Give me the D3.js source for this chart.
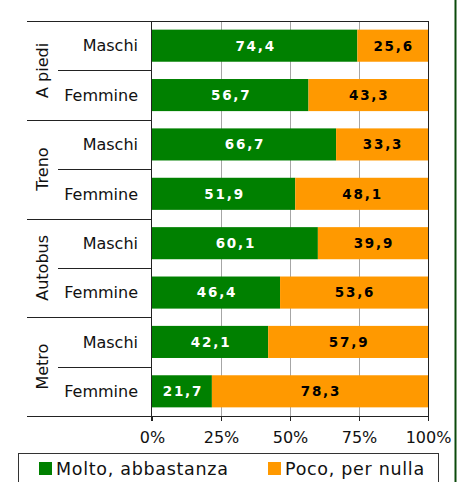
<!DOCTYPE html>
<html lang="it">
<head>
    <meta charset="UTF-8">
    <title>Molto, abbastanza / Poco, per nulla</title>
    <script src="https://d3js.org/d3.v7.min.js"></script>
    <style>
        body { margin: 0; background: #fff; }
        svg { display: block; font-family: "DejaVu Sans", Verdana, sans-serif; }
    </style>
</head>
<body>
    <script>
        const groups = ["A piedi", "Treno", "Autobus", "Metro"];
        const sexes = ["Maschi", "Femmine"];
        const molto = [74.4, 56.7, 66.7, 51.9, 60.1, 46.4, 42.1, 21.7];
        const poco = [25.6, 43.3, 33.3, 48.1, 39.9, 53.6, 57.9, 78.3];
        const seriesNames = ["Molto, abbastanza", "Poco, per nulla"];
        const tickValues = [0, 25, 50, 75, 100];
        const tickLabels = ["0%", "25%", "50%", "75%", "100%"];

        const width = 460, height = 482;
        const plotLeft = 152, plotRight = 428, plotTop = 21, plotBottom = 416;
        const colors = ["#008000", "#ff9900"];

        // one row per group x sex
        const rows = [];
        groups.forEach((g, gi) => sexes.forEach((s, si) => {
            const i = gi * sexes.length + si;
            rows.push({ id: i, group: g, sex: s, molto: molto[i], poco: poco[i] });
        }));

        const it = d3.formatLocale({ decimal: ",", thousands: ".", grouping: [3], currency: ["€", ""] });
        const fmt = it.format(".1f");

        const x = d3.scaleLinear().domain([0, 100]).range([plotLeft, plotRight]);
        const y = d3.scaleBand().domain(rows.map(d => d.id)).range([plotTop, plotBottom])
            .paddingInner(0.35).paddingOuter(0.175);

        const svg = d3.select("body").append("svg")
            .attr("width", width)
            .attr("height", height);

        // gridlines
        svg.append("g").selectAll("line")
            .data(tickValues.slice(1, -1))
            .join("line")
            .attr("x1", d => Math.round(x(d)) + 0.5).attr("x2", d => Math.round(x(d)) + 0.5)
            .attr("y1", plotTop).attr("y2", plotBottom)
            .attr("stroke", "#a6a6a6");

        // stacked bars
        const stack = d3.stack().keys(["molto", "poco"]);
        const layers = stack(rows);

        const layer = svg.append("g").selectAll("g")
            .data(layers)
            .join("g")
            .attr("fill", (d, i) => colors[i]);

        layer.selectAll("rect")
            .data(d => d)
            .join("rect")
            .attr("x", d => x(d[0]))
            .attr("width", d => x(d[1]) - x(d[0]))
            .attr("y", d => y(d.data.id))
            .attr("height", y.bandwidth());

        layer.selectAll("text")
            .data(d => d)
            .join("text")
            .attr("x", d => (x(d[0]) + x(d[1])) / 2 + 1)
            .attr("y", d => y(d.data.id) + y.bandwidth() / 2)
            .attr("dy", "0.36em")
            .attr("text-anchor", "middle")
            .attr("font-size", 13.5)
            .attr("font-weight", "bold")
            .attr("letter-spacing", 1.8)
            .attr("fill", (d, i, n) => n[i].parentNode.__data__.key === "molto" ? "#fff" : "#000")
            .text(d => fmt(d[1] - d[0]));

        // frame: top, right, left axis
        const frame = svg.append("g").attr("stroke", "#222").attr("fill", "none");
        frame.append("line").attr("x1", 27).attr("x2", plotRight).attr("y1", plotTop + 0.5).attr("y2", plotTop + 0.5);
        frame.append("line").attr("x1", plotRight + 0.5).attr("x2", plotRight + 0.5).attr("y1", plotTop).attr("y2", plotBottom);
        frame.append("line").attr("x1", plotLeft - 0.5).attr("x2", plotLeft - 0.5).attr("y1", plotTop).attr("y2", plotBottom + 5);

        // category separators
        const step = y.step();
        const bounds = d3.range(rows.length + 1).map(i => plotTop + i * step);
        frame.selectAll("line.sep")
            .data(bounds)
            .join("line")
            .attr("class", "sep")
            .attr("x1", (d, i) => i % sexes.length === 0 ? 27 : 58)
            .attr("x2", plotLeft)
            .attr("y1", d => Math.round(d) + 0.5)
            .attr("y2", d => Math.round(d) + 0.5);

        // x axis
        const xAxis = svg.append("g")
            .attr("transform", `translate(0,${plotBottom})`)
            .call(d3.axisBottom(x).tickValues(tickValues)
                .tickFormat((d, i) => tickLabels[i]).tickSize(5).tickPadding(11));
        xAxis.select(".domain").attr("stroke", "#222");
        xAxis.selectAll(".tick line").attr("stroke", "#222");
        xAxis.selectAll("text")
            .attr("font-family", "DejaVu Sans, sans-serif")
            .attr("font-size", 16)
            .attr("fill", "#111");

        // sex labels
        svg.append("g").selectAll("text")
            .data(rows)
            .join("text")
            .attr("x", 138)
            .attr("y", d => y(d.id) + y.bandwidth() / 2)
            .attr("dy", "0.36em")
            .attr("text-anchor", "end")
            .attr("font-size", 16)
            .attr("fill", "#111")
            .text(d => d.sex);

        // group labels (rotated)
        svg.append("g").selectAll("text")
            .data(groups)
            .join("text")
            .attr("transform", (d, i) => `translate(42,${plotTop + (i + 0.5) * step * sexes.length}) rotate(-90)`)
            .attr("dy", "0.36em")
            .attr("text-anchor", "middle")
            .attr("font-size", 16)
            .attr("fill", "#111")
            .text(d => d);

        // legend
        const lg = svg.append("g");
        lg.append("rect")
            .attr("x", 18.5).attr("y", 453.5)
            .attr("width", 420).attr("height", 40)
            .attr("fill", "#fff").attr("stroke", "#333");
        const legendX = [39, 268];
        const item = lg.selectAll("g")
            .data(seriesNames)
            .join("g")
            .attr("transform", (d, i) => `translate(${legendX[i]},462)`);
        item.append("rect")
            .attr("width", 13).attr("height", 13)
            .attr("fill", (d, i) => colors[i]);
        item.append("text")
            .attr("x", 17)
            .attr("y", 6.5)
            .attr("dy", "0.36em")
            .attr("font-size", 17.5)
            .attr("letter-spacing", 0.7)
            .attr("fill", "#111")
            .text(d => d);

        // outer frame line on the right
        svg.append("line")
            .attr("x1", 455.5).attr("x2", 455.5)
            .attr("y1", 0).attr("y2", height)
            .attr("stroke", "#0b4a0b")
            .attr("stroke-width", 2);
    </script>
</body>
</html>
